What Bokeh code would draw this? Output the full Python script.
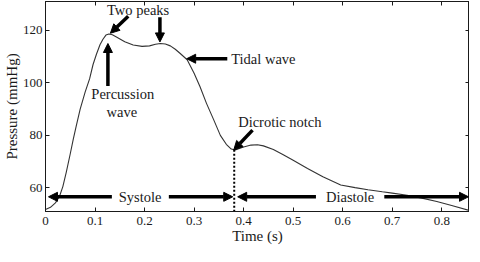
from bokeh.plotting import figure
from bokeh.models import Arrow, NormalHead, Label, LinearAxis, Range1d, FixedTicker
from bokeh.embed import file_html
from bokeh.resources import INLINE

# --- data ---
time_s = [0.000, 0.010, 0.020, 0.028, 0.035, 0.042, 0.050, 0.056, 0.062, 0.070,
          0.080, 0.089, 0.096, 0.103, 0.110, 0.116, 0.122, 0.128, 0.135, 0.145,
          0.160, 0.177, 0.195, 0.210, 0.222, 0.232, 0.242, 0.252, 0.262, 0.272,
          0.286, 0.300, 0.312, 0.325, 0.339, 0.353, 0.365, 0.375, 0.383, 0.390,
          0.400, 0.415, 0.428, 0.440, 0.460, 0.480, 0.500, 0.529, 0.560, 0.596,
          0.625, 0.651, 0.680, 0.700, 0.730, 0.760, 0.790, 0.820, 0.856]
pressure = [51.8, 52.6, 54.3, 56.6, 60.5, 66.0, 73.0, 78.5, 83.5, 90.0,
            96.5, 101.5, 107.0, 111.0, 114.5, 116.6, 118.2, 118.6, 118.3, 117.3,
            115.7, 114.4, 113.9, 114.1, 114.7, 115.0, 114.8, 114.1, 112.8, 111.2,
            108.8, 103.7, 98.5, 92.2, 86.2, 80.0, 76.6, 74.8, 74.4, 74.9,
            75.6, 76.3, 76.4, 76.0, 74.6, 72.6, 70.5, 67.4, 64.2, 61.1,
            60.1, 59.3, 58.5, 58.0, 57.2, 56.1, 54.8, 53.3, 51.4]
x_ticks = [0, 0.1, 0.2, 0.3, 0.4, 0.5, 0.6, 0.7, 0.8]
x_tick_labels = ["0", "0.1", "0.2", "0.3", "0.4", "0.5", "0.6", "0.7", "0.8"]
y_ticks = [60, 80, 100, 120]
notch_time = 0.381
notch_pressure = 74.5

FONT = '"Liberation Serif"'
INK = "#1a1a1a"

p = figure(width=469, height=246, output_backend="svg", toolbar_location=None,
           x_range=Range1d(0, 0.856), y_range=Range1d(51, 131),
           min_border_left=38, min_border_right=0, min_border_top=1, min_border_bottom=0)
p.grid.visible = False
p.background_fill_color = "white"
p.border_fill_color = "white"
p.outline_line_color = INK
p.outline_line_width = 1
p.outline_line_alpha = 1

p.line(time_s, pressure, line_color="#333333", line_width=1.1)

# dotted divider at the dicrotic notch
p.segment(x0=[notch_time], y0=[notch_pressure], x1=[notch_time], y1=[51],
          line_color="black", line_width=2, line_dash="2 2")

# axes
for ax in (p.xaxis[0], p.yaxis[0]):
    ax.major_tick_in = 4
    ax.major_tick_out = 0
    ax.minor_tick_line_color = None
    ax.axis_line_color = INK
    ax.major_tick_line_color = INK
    ax.major_label_text_font = FONT
    ax.major_label_text_font_size = "13px"
    ax.major_label_text_color = INK
    ax.axis_label_text_font = FONT
    ax.axis_label_text_font_style = "normal"
    ax.axis_label_text_color = INK

p.xaxis.ticker = FixedTicker(ticks=x_ticks)
p.xaxis.major_label_overrides = {t: l for t, l in zip(x_ticks, x_tick_labels)}
p.xaxis.axis_label = "Time (s)"
p.xaxis.axis_label_text_font_size = "15px"
p.xaxis.axis_label_standoff = 0
p.xaxis.major_label_standoff = 5
p.yaxis.ticker = FixedTicker(ticks=y_ticks)
p.yaxis.axis_label = "Pressure (mmHg)"
p.yaxis.axis_label_text_font_size = "15px"
p.yaxis.axis_label_standoff = 0
p.yaxis.major_label_standoff = 3

top = LinearAxis(ticker=FixedTicker(ticks=x_ticks), major_tick_in=4, major_tick_out=0,
                 minor_tick_line_color=None, major_label_standoff=0,
                 major_label_overrides={t: "" for t in x_ticks},
                 axis_line_color=INK, major_tick_line_color=INK)
right = LinearAxis(ticker=FixedTicker(ticks=y_ticks), major_tick_in=4, major_tick_out=0,
                   minor_tick_line_color=None, major_label_standoff=0,
                   major_label_overrides={t: "" for t in y_ticks},
                   axis_line_color=INK, major_tick_line_color=INK)
p.add_layout(top, "above")
p.add_layout(right, "right")


def arrow(x0, y0, x1, y1, size=9):
    p.add_layout(Arrow(end=NormalHead(size=size, fill_color="black", line_color="black"),
                       x_start=x0, y_start=y0, x_end=x1, y_end=y1,
                       line_color="black", line_width=3.5))


def label(x, y, text, align="center"):
    p.add_layout(Label(x=x, y=y, text=text, text_font=FONT, text_font_size="14.5px",
                       text_color=INK, text_align=align, text_baseline="middle"))


# Two peaks
label(0.187, 127.6, "Two peaks")
arrow(0.167, 125.4, 0.131, 118.9)
arrow(0.231, 125.0, 0.231, 115.6)
# Percussion wave
arrow(0.126, 98.8, 0.126, 115.0)
label(0.156, 95.6, "Percussion")
label(0.154, 88.8, "wave")
# Tidal wave
arrow(0.367, 109.2, 0.285, 109.2)
label(0.375, 109.2, "Tidal wave", align="left")
# Dicrotic notch
label(0.389, 85.0, "Dicrotic notch", align="left")
arrow(0.418, 82.0, 0.380, 74.4)
# Systole
yp = 56.6
arrow(0.134, yp, 0.006, yp)
arrow(0.249, yp, 0.378, yp)
label(0.191, yp, "Systole")
# Diastole
arrow(0.546, yp, 0.388, yp)
arrow(0.684, yp, 0.854, yp)
label(0.615, yp, "Diastole")

open("out.html", "w").write(file_html(p, INLINE))
